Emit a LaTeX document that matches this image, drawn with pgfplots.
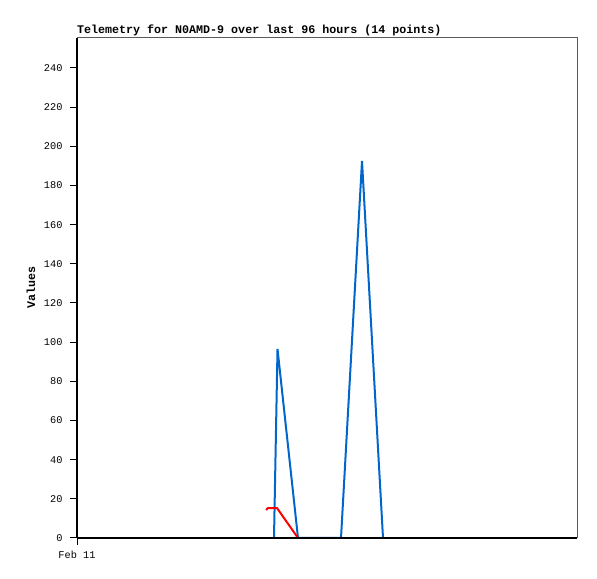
\documentclass[border=0pt]{standalone}
\usepackage{fontspec}
\setmainfont{Liberation Mono}
\setmonofont{Liberation Mono}
\usepackage{pgfplots}
\pgfplotsset{compat=1.18}
\definecolor{tblue}{RGB}{0,102,204}
\definecolor{tred}{RGB}{255,0,0}
\definecolor{framegray}{RGB}{90,90,90}
\begin{document}
\begin{tikzpicture}[x=1bp,y=1bp]
\path[use as bounding box] (0,0) rectangle (597,579);
\begin{axis}[
  at={(77bp,41bp)}, anchor=south west,
  scale only axis, width=500bp, height=500bp,
  xmin=0, xmax=500, ymin=0, ymax=255.3,
  axis x line*=bottom, axis y line*=left,
  axis line style={black, line width=1.2bp},
  xtick={0}, xticklabels={Feb 11},
  ytick={0,20,...,240},
  tick align=outside, major tick length=7bp,
  tick style={black, line width=1bp},
  /pgf/number format/assume math mode=true,
  ticklabel style={font=\fontsize{10.3bp}{12bp}\selectfont},
  yticklabel style={xshift=-4bp},
  xticklabel style={yshift=-3bp},
  title={\textbf{Telemetry for N0AMD-9 over last 96 hours (14 points)}},
  title style={at={(0,1)}, anchor=base west, yshift=-1.5bp, font=\fontsize{11.67bp}{13bp}\selectfont, inner sep=0pt},
  ylabel={\textbf{Values}},
  ylabel style={at={(axis description cs:-0.092,0.5)}, anchor=center, font=\fontsize{11.67bp}{13bp}\selectfont},
  clip=false,
]
\draw[framegray, line width=1bp] (rel axis cs:0,1) -- (rel axis cs:1,1) -- (rel axis cs:1,0);
\addplot[tblue, line width=2bp, mark=none] coordinates {
  (197,0) (200.5,96.5) (221,0) (264,0) (285,192.5) (306,0)
};
\addplot[tred, line width=2bp, mark=none] coordinates {
  (189,14.3) (191,15.3) (200,15.3) (221,0)
};
\addplot[black, line width=2.5bp, mark=none] coordinates {
  (188,0) (425.5,0)
};
\end{axis}
\end{tikzpicture}
\end{document}
